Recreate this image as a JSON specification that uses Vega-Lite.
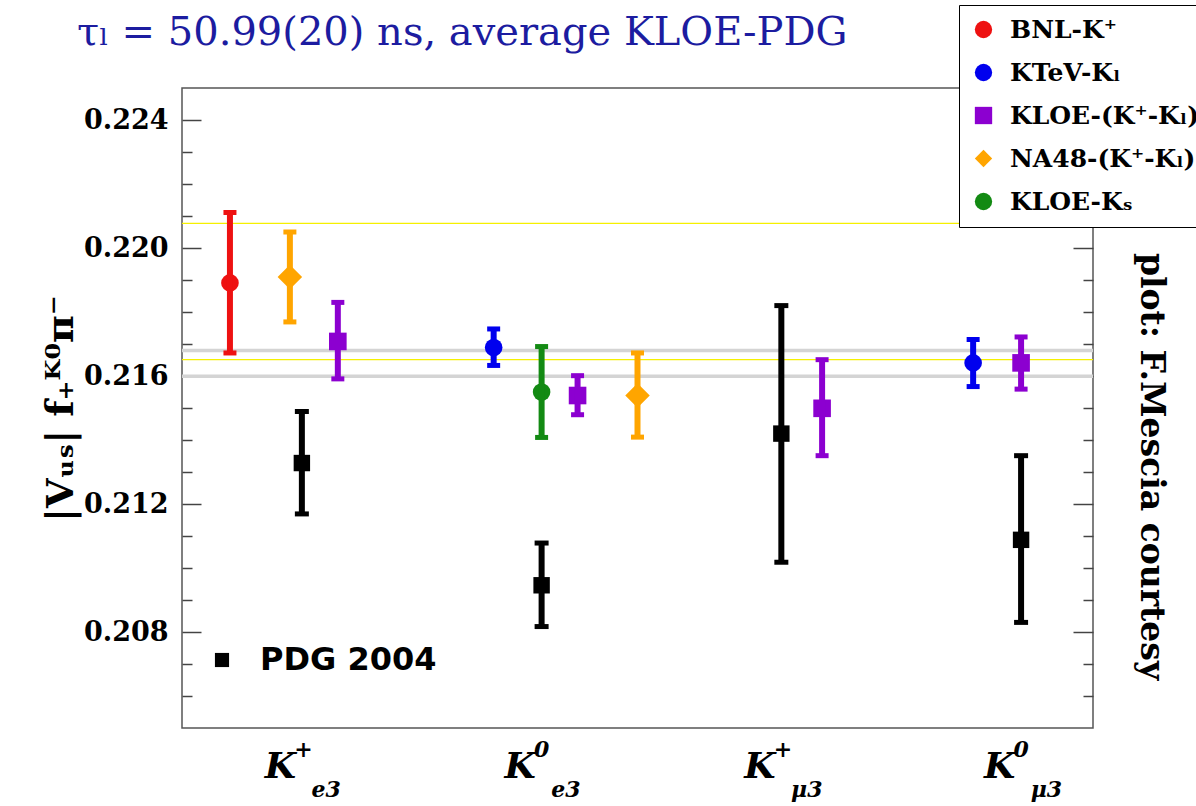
{
  "$schema": "https://vega.github.io/schema/vega-lite/v6.json",
  "width": 911,
  "height": 640,
  "autosize": {"type": "none"},
  "padding": {"left": 182, "top": 88, "right": 103, "bottom": 78},
  "background": "white",
  "config": {
    "view": {"stroke": "#555555", "strokeWidth": 1.5},
    "axis": {"domain": false, "grid": false}
  },
  "title": {
    "text": "τₗ = 50.99(20) ns, average KLOE-PDG",
    "orient": "none",
    "anchor": "start",
    "align": "left",
    "baseline": "alphabetic",
    "frame": "group",
    "dx": -105,
    "dy": -43,
    "font": "DejaVu Serif",
    "fontSize": 40,
    "fontWeight": "normal",
    "color": "#1c1ca0"
  },
  "datasets": {
    "exps": [
      {"exp": "BNL-K⁺", "mode": "K+e3", "x": 0.7, "v": 0.21891, "lo": 0.21672, "hi": 0.22111},
      {"exp": "NA48-(K⁺-Kₗ)", "mode": "K+e3", "x": 0.95, "v": 0.21909, "lo": 0.21769, "hi": 0.2205},
      {"exp": "KLOE-(K⁺-Kₗ)", "mode": "K+e3", "x": 1.15, "v": 0.21708, "lo": 0.21591, "hi": 0.2183},
      {"exp": "KTeV-Kₗ", "mode": "K0e3", "x": 1.8, "v": 0.21689, "lo": 0.21633, "hi": 0.21747},
      {"exp": "KLOE-Kₛ", "mode": "K0e3", "x": 2.0, "v": 0.2155, "lo": 0.21408, "hi": 0.21692},
      {"exp": "KLOE-(K⁺-Kₗ)", "mode": "K0e3", "x": 2.15, "v": 0.21539, "lo": 0.21479, "hi": 0.21601},
      {"exp": "NA48-(K⁺-Kₗ)", "mode": "K0e3", "x": 2.4, "v": 0.21539, "lo": 0.21409, "hi": 0.21672},
      {"exp": "KLOE-(K⁺-Kₗ)", "mode": "K+mu3", "x": 3.17, "v": 0.21499, "lo": 0.21351, "hi": 0.21651},
      {"exp": "KTeV-Kₗ", "mode": "K0mu3", "x": 3.8, "v": 0.21641, "lo": 0.21567, "hi": 0.21714},
      {"exp": "KLOE-(K⁺-Kₗ)", "mode": "K0mu3", "x": 4.0, "v": 0.21641, "lo": 0.21559, "hi": 0.21722}
    ],
    "pdg": [
      {"src": "PDG 2004", "mode": "K+e3", "x": 1.0, "v": 0.21328, "lo": 0.21169, "hi": 0.21489},
      {"src": "PDG 2004", "mode": "K0e3", "x": 2.0, "v": 0.20946, "lo": 0.20817, "hi": 0.21078},
      {"src": "PDG 2004", "mode": "K+mu3", "x": 3.0, "v": 0.2142, "lo": 0.21018, "hi": 0.2182},
      {"src": "PDG 2004", "mode": "K0mu3", "x": 4.0, "v": 0.21088, "lo": 0.2083, "hi": 0.21351}
    ],
    "gray": [{"y": 0.2168}, {"y": 0.21599}],
    "yellow": [{"y": 0.22077}, {"y": 0.21651}]
  },
  "resolve": {
    "scale": {"color": "independent", "shape": "independent"},
    "axis": {"x": "independent", "y": "independent"}
  },
  "layer": [
    {
      "data": {"name": "gray"},
      "mark": {"type": "rule", "color": "#d4d4d4", "strokeWidth": 3.5},
      "encoding": {
        "y": {
          "field": "y", "type": "quantitative",
          "scale": {"domain": [0.205, 0.225], "nice": false, "zero": false},
          "axis": {
            "orient": "left",
            "values": [0.208, 0.212, 0.216, 0.22, 0.224],
            "format": ".3f",
            "tickSize": -19, "tickColor": "#444444", "tickWidth": 1.5,
            "labelFont": "DejaVu Serif", "labelFontWeight": "bold", "labelFontSize": 27,
            "labelColor": "black", "labelPadding": 33,
            "title": "|Vᵤₛ| f₊ᴷ⁰π⁻",
            "titleFont": "DejaVu Serif", "titleFontSize": 38, "titleFontWeight": "bold",
            "titleColor": "black", "titleAngle": -90, "titleX": -121, "titleY": 320,
            "titleBaseline": "middle", "titleAlign": "center"
          }
        }
      }
    },
    {
      "data": {"name": "yellow"},
      "mark": {"type": "rule", "color": "#f5f000", "strokeWidth": 1.3},
      "encoding": {
        "y": {
          "field": "y", "type": "quantitative",
          "axis": {
            "orient": "left",
            "values": [0.206, 0.207, 0.209, 0.21, 0.211, 0.213, 0.214, 0.215, 0.217, 0.218, 0.219, 0.221, 0.222, 0.223],
            "tickSize": -10, "tickColor": "#444444", "tickWidth": 1.5,
            "labels": false, "title": null
          }
        }
      }
    },
    {
      "data": {"name": "exps"},
      "encoding": {
        "x": {
          "field": "x", "type": "quantitative",
          "scale": {"domain": [0.5, 4.3], "nice": false, "zero": false},
          "axis": {
            "orient": "bottom", "values": [1, 2, 3, 4], "labelExpr": "'K'",
            "ticks": false, "labelFont": "DejaVu Serif", "labelFontStyle": "italic",
            "labelFontWeight": "bold", "labelFontSize": 36, "labelColor": "black",
            "labelPadding": 21, "labelOffset": -22, "title": null
          }
        }
      },
      "layer": [
        {
          "transform": [{"filter": "datum.exp != 'NA48-(K⁺-Kₗ)'"}],
          "mark": {"type": "point", "filled": true, "opacity": 1, "size": 310},
          "encoding": {
            "y": {
              "field": "v", "type": "quantitative",
              "axis": {
                "orient": "right",
                "values": [0.208, 0.212, 0.216, 0.22, 0.224],
                "tickSize": -20, "tickColor": "#444444", "tickWidth": 1.5,
                "labels": false,
                "title": "plot: F.Mescia courtesy",
                "titleFont": "DejaVu Serif", "titleFontWeight": "bold", "titleFontSize": 33,
                "titleColor": "black", "titleAngle": 90, "titleX": 57, "titleY": 378,
                "titleBaseline": "middle", "titleAlign": "center"
              }
            },
            "color": {
              "field": "exp", "type": "nominal",
              "scale": {
                "domain": ["BNL-K⁺", "KTeV-Kₗ", "KLOE-(K⁺-Kₗ)", "NA48-(K⁺-Kₗ)", "KLOE-Kₛ"],
                "range": ["#ee1111", "#0000ee", "#8c00d0", "#ffa500", "#138a13"]
              },
              "legend": {
                "orient": "none", "legendX": 777, "legendY": -83, "title": null,
                "padding": 12, "strokeColor": "black", "fillColor": "white",
                "labelFont": "DejaVu Serif", "labelFontWeight": "bold", "labelFontSize": 25,
                "labelColor": "black", "labelLimit": 0,
                "symbolSize": 300, "symbolStrokeWidth": 0,
                "rowPadding": 17, "labelOffset": 14, "symbolOpacity": 1
              }
            },
            "shape": {
              "field": "exp", "type": "nominal",
              "scale": {
                "domain": ["BNL-K⁺", "KTeV-Kₗ", "KLOE-(K⁺-Kₗ)", "NA48-(K⁺-Kₗ)", "KLOE-Kₛ"],
                "range": ["circle", "circle", "square", "diamond", "circle"]
              },
              "legend": {
                "orient": "none", "legendX": 777, "legendY": -83, "title": null,
                "padding": 12, "strokeColor": "black", "fillColor": "white",
                "labelFont": "DejaVu Serif", "labelFontWeight": "bold", "labelFontSize": 25,
                "labelColor": "black", "labelLimit": 0,
                "symbolSize": 300, "symbolStrokeWidth": 0,
                "rowPadding": 17, "labelOffset": 14, "symbolOpacity": 1
              }
            }
          }
        },
        {
          "transform": [{"filter": "datum.exp == 'NA48-(K⁺-Kₗ)'"}],
          "mark": {"type": "point", "filled": true, "opacity": 1, "size": 600},
          "encoding": {
            "y": {"field": "v", "type": "quantitative"},
            "color": {"field": "exp", "type": "nominal"},
            "shape": {"field": "exp", "type": "nominal"}
          }
        },
        {
          "mark": {"type": "rule", "strokeWidth": 6},
          "encoding": {
            "y": {"field": "lo", "type": "quantitative"},
            "y2": {"field": "hi"},
            "color": {"field": "exp", "type": "nominal"}
          }
        },
        {
          "mark": {"type": "tick", "orient": "horizontal", "size": 13, "thickness": 5, "opacity": 1},
          "encoding": {
            "y": {"field": "hi", "type": "quantitative"},
            "color": {"field": "exp", "type": "nominal"}
          }
        },
        {
          "mark": {"type": "tick", "orient": "horizontal", "size": 13, "thickness": 5, "opacity": 1},
          "encoding": {
            "y": {"field": "lo", "type": "quantitative"},
            "color": {"field": "exp", "type": "nominal"}
          }
        }
      ]
    },
    {
      "data": {"name": "pdg"},
      "encoding": {
        "x": {
          "field": "x", "type": "quantitative",
          "scale": {"domain": [0.5, 4.3], "nice": false, "zero": false},
          "axis": {
            "orient": "bottom", "values": [1, 2, 3, 4],
            "labelExpr": "datum.value == 1 ? ['+', '\u2800e3'] : datum.value == 2 ? ['0', '\u2800e3'] : datum.value == 3 ? ['+', '\u2800μ3'] : ['0', '\u2800μ3']",
            "ticks": false, "labelAlign": "left", "labelOffset": -8,
            "labelFont": "DejaVu Serif", "labelFontStyle": "italic", "labelFontWeight": "bold",
            "labelFontSize": 22, "labelLineHeight": 40, "labelColor": "black",
            "labelPadding": 11, "title": null
          }
        }
      },
      "layer": [
        {
          "mark": {"type": "point", "shape": "square", "filled": true, "size": 270, "opacity": 1},
          "encoding": {
            "y": {
              "field": "v", "type": "quantitative",
              "axis": {
                "orient": "right",
                "values": [0.206, 0.207, 0.209, 0.21, 0.211, 0.213, 0.214, 0.215, 0.217, 0.218, 0.219, 0.221, 0.222, 0.223],
                "tickSize": -10, "tickColor": "#444444", "tickWidth": 1.5,
                "labels": false, "title": null
              }
            },
            "color": {
              "field": "src", "type": "nominal",
              "scale": {"domain": ["PDG 2004"], "range": ["black"]},
              "legend": {
                "orient": "none", "legendX": 24, "legendY": 556, "title": null,
                "padding": 0, "symbolType": "square", "symbolSize": 200,
                "symbolStrokeWidth": 0, "symbolOpacity": 1,
                "labelFont": "DejaVu Sans", "labelFontWeight": "bold", "labelFontSize": 32,
                "labelColor": "black", "labelOffset": 22, "labelLimit": 0
              }
            }
          }
        },
        {
          "mark": {"type": "rule", "strokeWidth": 6, "color": "black"},
          "encoding": {"y": {"field": "lo", "type": "quantitative"}, "y2": {"field": "hi"}}
        },
        {
          "mark": {"type": "tick", "orient": "horizontal", "size": 14, "thickness": 5, "color": "black", "opacity": 1},
          "encoding": {"y": {"field": "hi", "type": "quantitative"}}
        },
        {
          "mark": {"type": "tick", "orient": "horizontal", "size": 14, "thickness": 5, "color": "black", "opacity": 1},
          "encoding": {"y": {"field": "lo", "type": "quantitative"}}
        }
      ]
    }
  ]
}
